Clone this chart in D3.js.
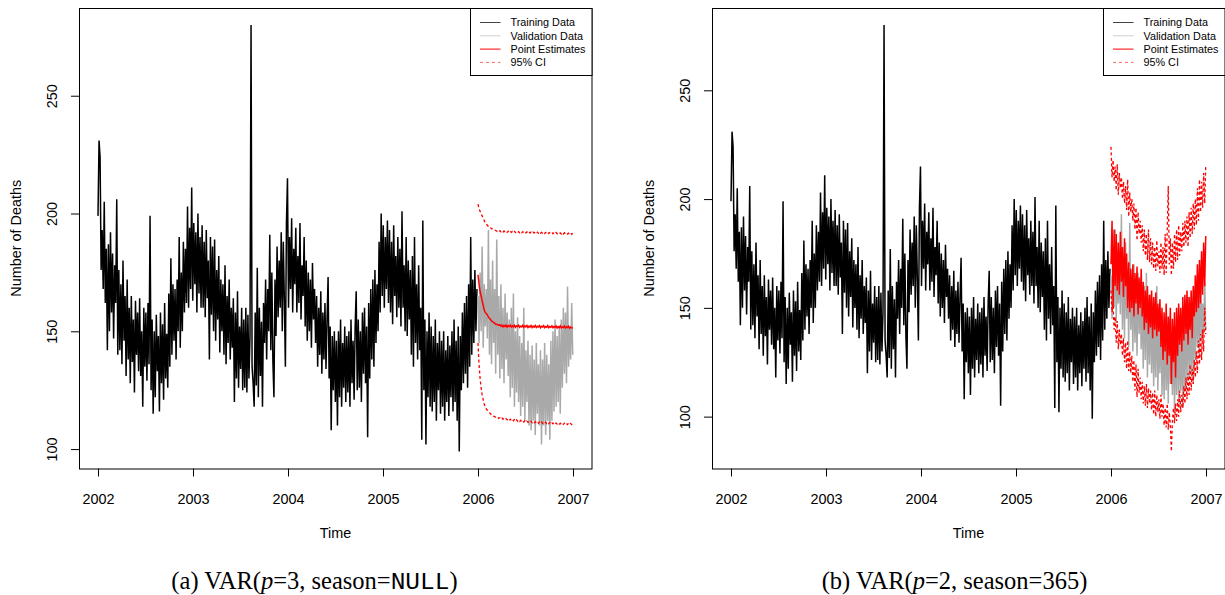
<!DOCTYPE html>
<html>
<head>
<meta charset="utf-8">
<title>VAR forecasts of daily deaths</title>
<style>
  body { margin: 0; background: #fff; }
  svg text { font-family: "Liberation Sans", Arial, Helvetica, sans-serif; fill: #000; }
  .caption { font-family: "Liberation Serif", "DejaVu Serif", serif; }
  .mono { font-family: "Liberation Mono", "DejaVu Sans Mono", monospace; }
</style>
</head>
<body>
<svg id="chart" width="1225" height="595"></svg>
<script src="https://cdn.jsdelivr.net/npm/d3@7"></script>
<script>
// ---- data (one value every 4 days) ----
var stepDays = 4;
var trainStart = 2002;
var validStart = 2006;
var yearTicks = [2002, 2003, 2004, 2005, 2006, 2007];
var deathTicks = [100, 150, 200, 250];
var legendLabels = ["Training Data", "Validation Data", "Point Estimates", "95% CI"];

// daily deaths 2002-2005 (training)
var training = [
  199, 231, 224, 176, 193, 168, 205, 162, 185, 142,
  187, 150, 192, 158, 183, 147, 178, 162, 206, 140,
  176, 142, 170, 136, 180, 146, 165, 131, 172, 138,
  160, 128, 165, 137, 155, 124, 163, 140, 158, 133,
  164, 131, 150, 118, 160, 135, 158, 129, 162, 136,
  199, 125, 155, 115, 150, 122, 157, 133, 148, 116,
  158, 128, 153, 121, 162, 130, 149, 126, 166, 135,
  181, 140, 170, 146, 168, 138, 172, 150, 190, 143,
  175, 150, 188, 158, 185, 162, 203, 160, 194, 168,
  211, 163, 196, 170, 192, 158, 200, 166, 190, 160,
  195, 160, 188, 156, 193, 164, 180, 138, 190, 157,
  186, 150, 189, 146, 176, 155, 182, 141, 172, 150,
  170, 140, 178, 136, 165, 145, 172, 138, 160, 143,
  164, 120, 158, 130, 167, 126, 152, 134, 160, 125,
  155, 126, 160, 124, 157, 130, 148, 280, 135, 128,
  118, 158, 127, 177, 122, 160, 131, 154, 118, 162,
  145, 172, 138, 168, 150, 191, 142, 175, 137, 122,
  172, 148, 186, 156, 180, 160, 192, 150, 188, 163,
  135, 196, 215, 160, 190, 168, 198, 158, 185, 170,
  194, 158, 182, 162, 196, 155, 178, 165, 190, 152,
  180, 146, 175, 150, 172, 143, 179, 155, 168, 145,
  165, 135, 160, 140, 167, 132, 158, 138, 162, 134,
  155, 173, 130, 152, 108, 148, 125, 150, 120, 146,
  110, 150, 122, 155, 118, 145, 126, 152, 120, 148,
  124, 150, 118, 155, 128, 146, 121, 152, 167, 125,
  155, 126, 150, 120, 158, 132, 160, 128, 152, 105,
  162, 130, 168, 138, 172, 135, 176, 145, 170, 150,
  188, 158, 200, 165, 195, 160, 190, 168, 197, 162,
  193, 158, 188, 153, 195, 165, 182, 156, 190, 160,
  185, 152, 201, 160, 178, 150, 190, 148, 180, 155,
  176, 140, 182, 135, 190, 145, 170, 138, 178, 142,
  160, 104, 197, 125, 155, 102, 150, 122, 158, 118,
  152, 116, 148, 120, 155, 112, 145, 125, 150, 115,
  146, 118, 150, 112, 142, 120, 148, 114, 144, 122,
  150, 116, 155, 120, 146, 112, 152, 99, 148, 125,
  158, 128, 162, 132, 165, 126, 170, 135, 190, 140,
  172, 145, 176, 150, 168
];

// daily deaths 2006 (validation)
var validation = [
  165, 145, 175, 150, 186, 143, 170, 152, 168, 147,
  193, 140, 172, 136, 180, 145, 168, 132, 189, 140,
  165, 130, 170, 134, 160, 128, 166, 138, 158, 131,
  155, 122, 160, 126, 166, 118, 150, 124, 156, 120,
  148, 114, 145, 118, 160, 112, 142, 120, 146, 110,
  140, 108, 144, 112, 138, 106, 145, 115, 136, 110,
  142, 102, 138, 110, 145, 106, 140, 112, 136, 104,
  146, 112, 150, 116, 155, 118, 148, 120, 152, 115,
  155, 126, 160, 132, 158, 128, 169, 135, 152, 138,
  162, 140
];

// (a) VAR(p=3, season=NULL) forecasts
var pointA = [
  174, 170, 167, 165, 163, 161, 159, 158, 157.5, 157,
  156, 155.5, 155, 154.5, 154, 153.8, 153.5, 153, 153, 152.8,
  152.5, 152.8, 152.2, 152.6, 151.9, 152.5, 152, 152.6, 151.8, 152.4,
  152, 152.6, 151.8, 152.3, 151.9, 152.6, 151.7, 152.3, 152, 152.6,
  151.7, 152.2, 151.9, 152.6, 151.7, 152.3, 151.9, 152.5, 151.6, 152.2,
  151.8, 152.5, 151.6, 152.2, 151.8, 152.5, 151.6, 152.1, 151.8, 152.4,
  151.5, 152.1, 151.8, 152.4, 151.5, 152, 151.7, 152.4, 151.5, 152,
  151.7, 152.3, 151.5, 152, 151.7, 152.3, 151.4, 152, 151.6, 152.3,
  151.4, 151.9, 151.6, 152.2, 151.4, 151.9, 151.6, 152.2, 151.3, 151.8,
  151.5, 151.4
];
var upperA = [
  204, 202, 201, 200, 199, 198, 197, 196, 195.5, 195,
  194.5, 194, 194, 193.5, 193.5, 193, 193, 192.8, 192.5, 192.8,
  192.3, 192.7, 192.2, 192.6, 192.1, 192.6, 192.1, 192.5, 192, 192.5,
  192, 192.5, 192, 192.4, 191.9, 192.4, 191.9, 192.4, 191.9, 192.3,
  191.8, 192.3, 191.8, 192.3, 191.8, 192.2, 191.8, 192.2, 191.7, 192.2,
  191.7, 192.2, 191.7, 192.1, 191.7, 192.1, 191.6, 192.1, 191.6, 192.1,
  191.6, 192, 191.6, 192, 191.5, 192, 191.5, 192, 191.5, 191.9,
  191.5, 191.9, 191.4, 191.9, 191.4, 191.9, 191.4, 191.8, 191.4, 191.8,
  191.3, 191.8, 191.3, 191.8, 191.3, 191.7, 191.3, 191.7, 191.2, 191.7,
  191.2, 191.6
];
var lowerA = [
  145, 136, 130, 126, 123, 121, 119, 118, 117, 116.5,
  116, 115.5, 115, 114.5, 114.5, 114, 113.8, 113.5, 113.2, 113.5,
  113, 113.3, 112.8, 113.2, 112.6, 113, 112.5, 112.9, 112.4, 112.8,
  112.2, 112.7, 112.1, 112.6, 112, 112.5, 111.9, 112.4, 111.8, 112.3,
  111.7, 112.2, 111.6, 112.1, 111.5, 112, 111.5, 111.9, 111.4, 111.8,
  111.3, 111.8, 111.2, 111.7, 111.2, 111.6, 111.1, 111.6, 111, 111.5,
  111, 111.5, 110.9, 111.4, 110.9, 111.4, 110.8, 111.3, 110.8, 111.3,
  110.7, 111.2, 110.7, 111.2, 110.6, 111.1, 110.6, 111.1, 110.6, 111,
  110.5, 111, 110.5, 111, 110.5, 110.9, 110.4, 110.9, 110.4, 110.9,
  110.4, 110.6
];

// (b) VAR(p=2, season=365) forecasts
var pointB = [
  170, 190, 150, 186, 160, 184, 158, 180, 156, 185,
  162, 178, 155, 182, 160, 175, 150, 171, 148, 168,
  150, 170, 146, 166, 152, 169, 147, 164, 150, 168,
  146, 162, 140, 158, 143, 160, 138, 156, 141, 158,
  136, 155, 140, 157, 137, 152, 139, 154, 132, 150,
  126, 148, 130, 152, 124, 146, 128, 150, 115, 145,
  125, 148, 118, 150, 128, 152, 133, 150, 130, 155,
  135, 156, 138, 158, 133, 155, 140, 158, 136, 160,
  146, 165, 148, 170, 150, 172, 152, 176, 156, 180,
  160, 183
];
var upperB = [
  224, 210, 218, 208, 215, 204, 216, 202, 212, 205,
  210, 200, 208, 198, 206, 195, 209, 192, 203, 194,
  200, 190, 198, 186, 196, 181, 194, 184, 190, 180,
  188, 176, 186, 174, 184, 172, 186, 171, 182, 170,
  180, 168, 178, 167, 181, 169, 176, 166, 180, 168,
  178, 165, 184, 166, 186, 206, 170, 182, 165, 180,
  168, 184, 171, 186, 172, 188, 174, 185, 176, 189,
  178, 190, 180, 192, 178, 194, 182, 196, 184, 198,
  186, 200, 188, 205, 190, 209, 194, 208, 196, 212,
  198, 215
];
var lowerB = [
  158, 148, 152, 140, 146, 134, 144, 131, 140, 133,
  138, 128, 136, 125, 134, 122, 135, 121, 130, 120,
  128, 116, 126, 112, 124, 109, 122, 111, 118, 108,
  116, 106, 114, 105, 115, 104, 113, 106, 112, 103,
  111, 101, 112, 100, 110, 102, 108, 99, 110, 100,
  106, 96, 104, 95, 106, 94, 102, 96, 84, 98,
  104, 97, 106, 98, 108, 100, 112, 102, 110, 104,
  114, 106, 118, 108, 120, 110, 124, 112, 122, 115,
  126, 118, 130, 120, 135, 124, 138, 126, 140, 130,
  150, 138
];

// ---- layout ----
var svg = d3.select("#chart"),
    plotTop = 8,
    plotW = 513,
    plotH = 460.5;

var panels = [
  {left: 79, tag: "(a)", p: "3", season: "NULL", seasonMono: true,
   point: pointA, upper: upperA, lower: lowerA, capX: 314.5},
  {left: 712, tag: "(b)", p: "2", season: "365", seasonMono: false,
   point: pointB, upper: upperB, lower: lowerB, capX: 954.5}
];

panels.forEach(drawPanel);

function drawPanel(pn) {
  var g = svg.append("g").attr("transform", "translate(" + pn.left + "," + plotTop + ")");

  //R style scales: 4% padding around the data range
  var x = d3.scaleLinear().domain([2001.8, 2007.2]).range([0, plotW]);
  var ext = d3.extent(training.concat(validation, pn.point, pn.upper, pn.lower));
  var pad = (ext[1] - ext[0]) * 0.04;
  var y = d3.scaleLinear().domain([ext[0] - pad, ext[1] + pad]).range([plotH, 0]);

  function series(start) {
    return d3.line()
      .x(function(d, i) { return x(start + i * stepDays / 365); })
      .y(function(d) { return y(d); });
  }

  var clip = "clip" + pn.left;
  g.append("clipPath").attr("id", clip)
    .append("rect").attr("width", plotW).attr("height", plotH);
  var lines = g.append("g").attr("clip-path", "url(#" + clip + ")");

  lines.append("path").datum(training)
    .attr("d", series(trainStart))
    .attr("fill", "none").attr("stroke", "#000").attr("stroke-width", 1.5);
  lines.append("path").datum(validation)
    .attr("d", series(validStart))
    .attr("fill", "none").attr("stroke", "#a9a9a9").attr("stroke-width", 1.5);
  lines.append("path").datum(pn.point)
    .attr("d", series(validStart))
    .attr("fill", "none").attr("stroke", "#ff0000").attr("stroke-width", 1.5);
  [pn.upper, pn.lower].forEach(function(s) {
    lines.append("path").datum(s)
      .attr("d", series(validStart))
      .attr("fill", "none").attr("stroke", "#ff0000").attr("stroke-width", 1.3)
      .attr("stroke-dasharray", "3,2.5");
  });

  //Box
  g.append("rect")
    .attr("x", 0.5).attr("y", 0.5)
    .attr("width", plotW - 0.5).attr("height", plotH)
    .attr("fill", "none").attr("stroke", "#000");

  //Axes
  var xAxis = g.append("g")
    .attr("transform", "translate(0," + plotH + ")")
    .call(d3.axisBottom(x).tickValues(yearTicks).tickSize(8).tickFormat(d3.format("d")));
  xAxis.select(".domain").remove();
  xAxis.selectAll(".tick text")
    .attr("y", 35).attr("dy", null)
    .style("font-size", "14.4px");

  var yAxis = g.append("g")
    .call(d3.axisLeft(y).tickValues(deathTicks).tickSize(8));
  yAxis.select(".domain").remove();
  yAxis.selectAll(".tick text")
    .attr("x", null).attr("dy", null)
    .attr("text-anchor", "middle")
    .attr("transform", "translate(-22,0) rotate(-90)")
    .style("font-size", "14.4px");

  g.selectAll(".tick line").attr("stroke", "#000");

  //Axis titles
  g.append("text")
    .attr("transform", "translate(-58," + (plotH / 2) + ") rotate(-90)")
    .attr("text-anchor", "middle")
    .style("font-size", "14.4px")
    .text("Number of Deaths");
  g.append("text")
    .attr("x", plotW / 2).attr("y", plotH + 69)
    .attr("text-anchor", "middle")
    .style("font-size", "14.4px")
    .text("Time");

  //Legend
  var lg = g.append("g").attr("transform", "translate(" + (plotW - 122) + ",0)");
  lg.append("rect")
    .attr("x", 0.5).attr("y", 0.5).attr("width", 121.5).attr("height", 67)
    .attr("fill", "#fff").attr("stroke", "#000");
  var legendColors = ["#444", "#cfcfcf", "#ff0000", "#ff6666"];
  var row = lg.selectAll(".row")
    .data(legendLabels)
    .enter().append("g")
    .attr("class", "row")
    .attr("transform", function(d, i) { return "translate(0," + (14.5 + i * 13.3) + ")"; });
  row.append("line")
    .attr("x1", 10).attr("x2", 30.5)
    .attr("stroke", function(d, i) { return legendColors[i]; })
    .attr("stroke-dasharray", function(d, i) { return i == 3 ? "3,3" : null; });
  row.append("text")
    .attr("x", 40.5).attr("y", 3.8)
    .style("font-size", "10.8px")
    .text(function(d) { return d; });

  //Caption
  var cap = svg.append("text")
    .attr("class", "caption")
    .attr("x", pn.capX).attr("y", 589)
    .attr("text-anchor", "middle")
    .style("font-size", "24.5px");
  cap.append("tspan").text(pn.tag + " VAR(");
  cap.append("tspan").style("font-style", "italic").text("p");
  cap.append("tspan").text("=" + pn.p + ", season=");
  cap.append("tspan").attr("class", pn.seasonMono ? "mono" : null).text(pn.season);
  cap.append("tspan").text(")");
}
</script>
</body>
</html>
